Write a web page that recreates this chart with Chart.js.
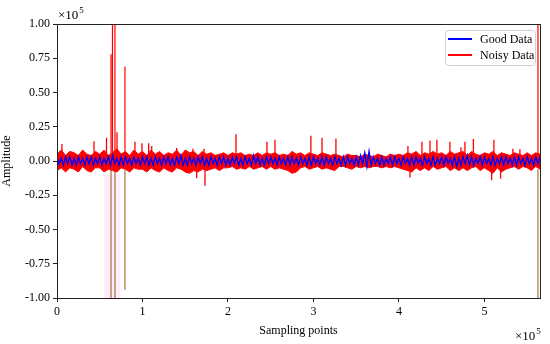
<!DOCTYPE html>
<html>
<head>
<meta charset="utf-8">
<script src="https://cdn.jsdelivr.net/npm/chart.js@4"></script>
<style>
  html, body { margin: 0; padding: 0; background: #fff; }
  #wrap { width: 550px; height: 344px; position: relative; }
</style>
</head>
<body>
<div id="wrap"><canvas id="chart"></canvas></div>
<script>
'use strict';

// envelope of each signal in bins of 5000 samples, values in units of 1e3
const BIN = 5000;
const redHi = [5,8,4,7,6,4,8,5,4,7, 5,8,4,6,9,5,7,4,8,5, 7,4,8,5,7,4,6,5,8,4,
  8,6,7,4,7,5,6,4,5,6, 4,6,5,6,4,5,4,6,4,6, 5,6,4,5,4,7,5,6,4,6,
  5,4,6,5,4,5,4,3,5,4, 4,3,5,4,3,5,4,3,5,4, 5,4,6,5,7,4,6,5,7,5,
  6,4,7,5,6,7,4,7,5,4, 6,5,7,4,6,5,4,6,5,4, 6,4,6,5];
const redLo = [-7,-5,-8,-5,-6,-8,-4,-7,-8,-5, -5,-8,-6,-7,-8,-5,-6,-8,-5,-6, -6,-8,-5,-7,-8,-5,-7,-8,-5,-6,
  -8,-9,-7,-8,-6,-7,-6,-5,-7,-5, -5,-4,-6,-5,-6,-4,-6,-5,-4,-6, -4,-6,-5,-6,-7,-9,-8,-5,-4,-6,
  -5,-4,-6,-5,-6,-7,-4,-4,-5,-6, -4,-5,-4,-5,-4,-4,-5,-4,-5,-4, -5,-6,-7,-8,-5,-7,-5,-7,-4,-6,
  -5,-4,-7,-5,-7,-5,-7,-5,-4,-7, -5,-7,-9,-5,-8,-6,-5,-4,-6,-4, -5,-7,-4,-6];
const blueHi = [3,2,3,3,2,3,2,3,3,2, 3,2,3,4,2,3,3,2,3,2, 3,3,2,3,2,3,3,2,3,4,
  2,3,2,3,3,2,3,2,3,3, 2,3,3,2,3,2,4,3,2,3, 3,2,3,2,3,3,2,3,2,3,
  3,2,3,3,2,3,2,3,3,2, 3,4,6,7,3,2,3,2,3,3, 2,3,2,3,3,2,3,2,3,2,
  3,3,2,3,2,3,4,3,2,3, 3,2,3,2,3,3,2,3,3,2, 3,2,3,3];
const blueLo = [-2,-3,-2,-3,-3,-2,-3,-2,-3,-2, -3,-2,-3,-2,-3,-3,-2,-3,-2,-3, -2,-3,-3,-2,-3,-2,-3,-3,-2,-3,
  -3,-2,-3,-2,-3,-3,-2,-3,-2,-3, -3,-2,-3,-3,-2,-3,-2,-3,-3,-2, -2,-3,-2,-3,-3,-2,-3,-2,-3,-3,
  -2,-3,-3,-2,-3,-2,-3,-3,-2,-3, -3,-2,-4,-3,-2,-3,-3,-2,-3,-2, -3,-2,-3,-3,-2,-3,-2,-3,-3,-2,
  -3,-2,-3,-4,-3,-2,-3,-3,-2,-3, -2,-3,-3,-2,-3,-2,-3,-3,-2,-3, -2,-3,-2,-3];

// isolated noise spikes out of the band (samples, amplitude)
const peakX = [5800, 43300, 57900, 70200, 91200, 99400, 107200, 110800, 140000, 159000, 172000,
  209400, 245600, 255000, 297000, 310000, 326300, 410500, 426900, 436300, 444400, 459600,
  472500, 477200, 487100, 511100, 533300, 541500,
  163400, 173100, 412900, 508400, 518900];
const peakY = [12500, 14500, 17000, 21000, 14000, 13000, 13000, 11000, 9500, 9000, 9000,
  19500, 14000, 15500, 18500, 17000, 16500, 11000, 14000, 15000, 15500, 14000,
  10000, 14000, 16000, 15500, 9000, 8500,
  -12500, -18000, -12000, -14000, -13000];

// large spikes of the noisy signal
const spikeX = [63200, 64900, 67800, 79500, 562600];
const spikeTop = [78000, 120000, 120000, 69000, 120000];
const spikeBottom = [-105000, -6000, -105000, -94000, -105000];

const shadeFrom = 55000, shadeTo = 74000, shadeTop = -10000;
const xTicks = [0, 1, 2, 3, 4, 5];
const X_MAX = 565000;

function line(vals) {
  return vals.map((v, i) => ({ x: i * BIN, y: v * 1000 }));
}
function zigzag(hi, lo) {
  const out = [];
  hi.forEach((h, i) => {
    out.push({ x: i * BIN, y: h * 1000 });
    out.push({ x: i * BIN + BIN / 2, y: lo[i] * 1000 });
  });
  return out;
}
function segs(xs, from, to) {
  const out = [];
  xs.forEach((x, i) => {
    out.push({ x, y: from[i] }, { x, y: to[i] }, { x, y: null });
  });
  return out;
}
const spikeBase = spikeX.map(() => 0);
const peakBase = peakX.map(() => 0);

const FONT = '"Liberation Serif", "Times New Roman", serif';
Chart.defaults.font.family = FONT;
Chart.defaults.font.size = 12;
Chart.defaults.color = '#000';

const decor = {
  id: 'decor',
  beforeDatasetsDraw(chart) {
    const { ctx, chartArea: a, scales: { x, y } } = chart;
    ctx.save();
    ctx.fillStyle = 'rgba(250,200,240,0.35)';
    const x0 = x.getPixelForValue(shadeFrom), x1 = x.getPixelForValue(shadeTo);
    const y0 = y.getPixelForValue(shadeTop);
    ctx.fillRect(x0, y0, x1 - x0, a.bottom - y0);
    ctx.restore();
  },
  afterDraw(chart) {
    const { ctx, chartArea: a } = chart;
    ctx.save();
    ctx.strokeStyle = '#222';
    ctx.lineWidth = 1;
    ctx.strokeRect(Math.round(a.left) + 0.5, Math.round(a.top) + 0.5, Math.round(a.right - a.left), Math.round(a.bottom - a.top));
    // exponent labels
    ctx.fillStyle = '#000';
    ctx.textBaseline = 'alphabetic';
    const expo = (px, py) => {
      ctx.font = '13px ' + FONT;
      ctx.fillText('\u00d710', px, py);
      const w = ctx.measureText('\u00d710').width;
      ctx.font = '9px ' + FONT;
      ctx.fillText('5', px + w + 1, py - 6);
    };
    expo(a.left + 1, a.top - 5);
    expo(a.right - 25, 340);
    // legend
    const lx = 445, ly = 30, lw = 90, lh = 35;
    ctx.fillStyle = 'rgba(255,255,255,0.85)';
    ctx.strokeStyle = '#d0d0d0';
    ctx.beginPath();
    ctx.roundRect(lx + 0.5, ly + 0.5, lw, lh, 3);
    ctx.fill();
    ctx.stroke();
    const items = [['Good Data', '#0000ff'], ['Noisy Data', '#ff0000']];
    items.forEach(([t, c], i) => {
      const yy = ly + 9 + i * 16;
      ctx.strokeStyle = c;
      ctx.lineWidth = 2;
      ctx.beginPath();
      ctx.moveTo(lx + 3, yy);
      ctx.lineTo(lx + 27, yy);
      ctx.stroke();
      ctx.fillStyle = '#000';
      ctx.font = '12px ' + FONT;
      ctx.textBaseline = 'middle';
      ctx.fillText(t, lx + 35, yy + 0.5);
    });
    ctx.restore();
  },
};

const lineStyle = { pointRadius: 0, tension: 0, spanGaps: false };

new Chart(document.getElementById('chart'), {
  type: 'line',
  data: {
    datasets: [
      { label: 'Good Data', data: zigzag(blueHi, blueLo), borderColor: '#0000ff', borderWidth: 1.4, fill: false, ...lineStyle },
      { label: 'Noisy Data', data: line(redHi), borderColor: '#ff0000', backgroundColor: '#ff0000', fill: '+1', borderWidth: 1, ...lineStyle },
      { label: 'noisy low', data: line(redLo), borderColor: '#ff0000', borderWidth: 1, fill: false, ...lineStyle },
      { label: 'peaks', data: segs(peakX, peakBase, peakY), borderColor: '#ff0000', borderWidth: 1.3, fill: false, ...lineStyle },
      { label: 'spikes up', data: segs(spikeX, spikeBase, spikeTop), borderColor: '#ff0000', borderWidth: 1.2, fill: false, ...lineStyle },
      { label: 'spikes down', data: segs(spikeX, spikeBase.map(() => -6000), spikeBottom), borderColor: '#a8743a', borderWidth: 1.2, fill: false, ...lineStyle },
    ],
  },
  options: {
    responsive: true,
    maintainAspectRatio: false,
    animation: false,
    parsing: { xAxisKey: 'x', yAxisKey: 'y' },
    layout: { padding: { left: 0, right: 10, top: 24, bottom: 0 } },
    plugins: { legend: { display: false }, tooltip: { enabled: false } },
    scales: {
      x: {
        type: 'linear',
        min: 0,
        max: X_MAX,
        afterBuildTicks: (s) => { s.ticks = xTicks.map((v) => ({ value: v * 100000 })); },
        afterFit: (s) => { s.height = 46; },
        ticks: { callback: (v) => String(v / 100000), padding: 3, maxRotation: 0, color: '#000' },
        grid: { drawOnChartArea: false, drawTicks: true, tickLength: 4, color: '#222' },
        border: { display: false },
        title: { display: true, text: 'Sampling points', padding: { top: 0, bottom: 6 }, font: { size: 12 } },
      },
      y: {
        min: -100000,
        max: 100000,
        afterFit: (s) => { s.width = 57; },
        ticks: { stepSize: 25000, callback: (v) => (v / 100000).toFixed(2), padding: 3, color: '#000' },
        grid: { drawOnChartArea: false, drawTicks: true, tickLength: 4, color: '#222' },
        border: { display: false },
        title: { display: true, text: 'Amplitude', padding: { top: 0, bottom: 2 }, font: { size: 12 } },
      },
    },
  },
  plugins: [decor],
});
</script>
</body>
</html>
